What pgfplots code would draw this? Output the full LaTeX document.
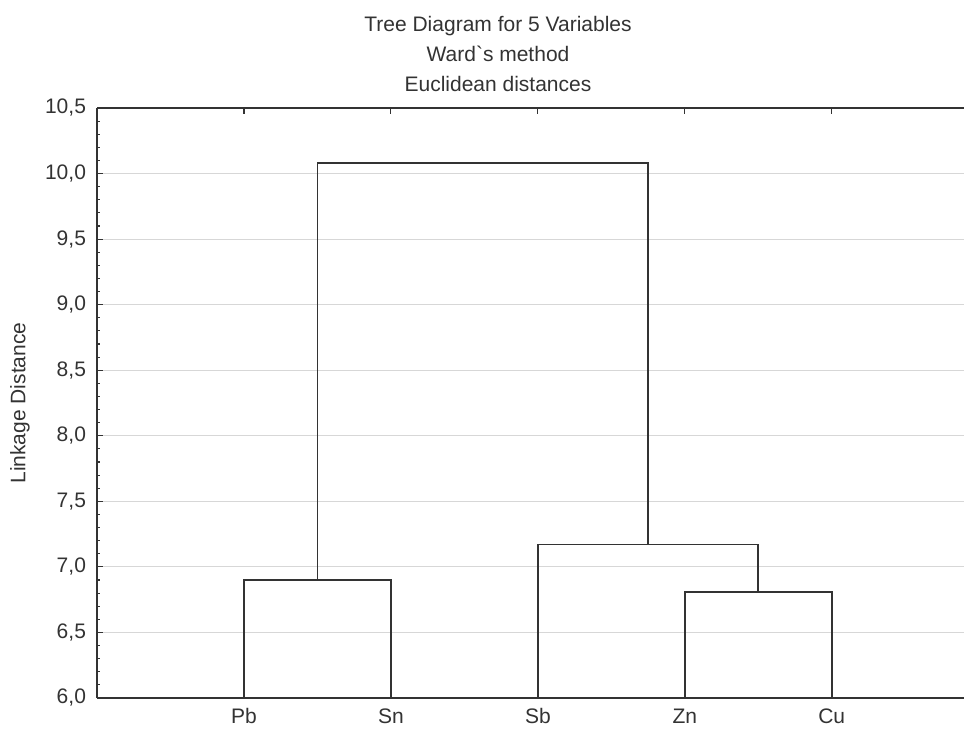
\documentclass[border=0pt]{standalone}
\usepackage{fontspec}
\setmainfont{Liberation Sans}
\newfontfamily\plainfont{Liberation Sans}
\usepackage{pgfplots}
\pgfplotsset{compat=1.18}
\definecolor{ink}{RGB}{51,51,51}
\definecolor{gridc}{RGB}{215,215,215}
\begin{document}
\begin{tikzpicture}
\useasboundingbox (0,0) rectangle (483pt,364.5pt);
\begin{axis}[
  at={(48.5pt,15.5pt)}, anchor=south west,
  scale only axis, width=433.5pt, height=295pt,
  xmin=0, xmax=5.9, ymin=6, ymax=10.5,
  axis x line*=box, axis y line*=left,
  axis line style={ink, line width=0.9pt},
  xtick={1,2,3,4,5}, xticklabels={Pb,Sn,Sb,Zn,Cu},
  ytick={6,6.5,...,10.5},
  minor y tick num=4,
  tick align=inside,
  major tick length=3pt, minor tick length=1.5pt,
  tick style={ink, line width=0.6pt},
  ymajorgrids, grid style={gridc, line width=0.6pt},
  /pgf/number format/.cd, use comma, fixed, fixed zerofill, precision=1, assume math mode=true,
  /pgfplots/.cd,
  every tick label/.append style={font=\fontsize{10.5}{12}\selectfont, text=ink},
  xticklabel style={yshift=-2pt, text height=1.6ex, text depth=0pt, inner ysep=2pt},
  yticklabel style={xshift=-2pt},
  clip=false,
]
\addplot[ink, line width=0.9pt] coordinates {(1,6) (1,6.90) (2,6.90) (2,6)};
\addplot[ink, line width=0.9pt] coordinates {(4,6) (4,6.81) (5,6.81) (5,6)};
\addplot[ink, line width=0.9pt] coordinates {(3,6) (3,7.17) (4.5,7.17) (4.5,6.81)};
\addplot[ink, line width=0.9pt] coordinates {(1.5,6.90) (1.5,10.08) (3.75,10.08) (3.75,7.17)};
\end{axis}
\node[anchor=base, text=ink, font=\fontsize{10.5}{12}\selectfont] at (249pt,348.5pt) {Tree Diagram for 5 Variables};
\node[anchor=base, text=ink, font=\fontsize{10.5}{12}\selectfont] at (249pt,333.5pt) {Ward{\plainfont `}s method};
\node[anchor=base, text=ink, font=\fontsize{10.5}{12}\selectfont] at (249pt,318.5pt) {Euclidean distances};
\node[rotate=90, text=ink, font=\fontsize{10.5}{12}\selectfont] at (10pt,163pt) {Linkage Distance};
\end{tikzpicture}
\end{document}
